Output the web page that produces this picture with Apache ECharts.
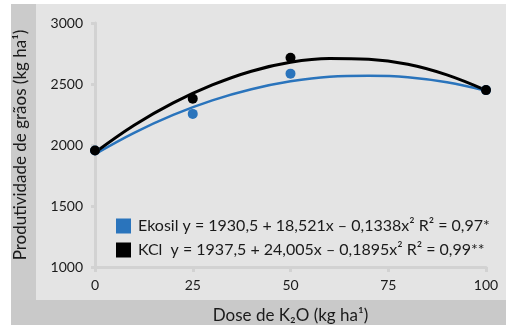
<!DOCTYPE html>
<html><head><meta charset="utf-8">
<script src="https://cdn.jsdelivr.net/npm/echarts@6/dist/echarts.min.js"></script>
<style>html,body{margin:0;padding:0;background:#fff;}#c{width:506px;height:329px;}</style>
</head><body><div id="c"></div>
<script>
// Observed points
var doseX = [0, 25, 50, 100];
var ekosilObs = [1955, 2255, 2585, 2450];
var kclObs = [1955, 2380, 2715, 2450];
// Fitted curves at 10-unit steps
var curveX = [0, 10, 20, 30, 40, 50, 60, 70, 80, 90, 100];
var ekosilCurve = [1925, 2100, 2247, 2366, 2457, 2522, 2560, 2568, 2556, 2514, 2445];
var kclCurve = [1938, 2162, 2345, 2492, 2605, 2678, 2708, 2702, 2662, 2575, 2448];
var xTicks = [0, 25, 50, 75, 100];
var yTicks = [1000, 1500, 2000, 2500, 3000];
var legendText = {
  'Ekosil': 'Ekosil y = 1930,5 + 18,521x – 0,1338x² R² = 0,97*',
  'KCl': 'KCl  y = 1937,5 + 24,005x – 0,1895x² R² = 0,99**'
};
var BLUE = '#2a74bc', BLACK = '#000000';
var FONT = 'Lato';

function pairs(xs, ys) { return xs.map(function (x, i) { return [x, ys[i]]; }); }

var chart = echarts.init(document.getElementById('c'), null, {renderer: 'canvas'});
chart.setOption({
  animation: false,
  backgroundColor: '#ffffff',
  textStyle: {fontFamily: FONT},
  graphic: [
    {type: 'rect', z: -10, silent: true, shape: {x: 11, y: 4, width: 495, height: 321}, style: {fill: '#e4e4e4'}},
    {type: 'rect', z: -9, silent: true, shape: {x: 11, y: 4, width: 25, height: 296}, style: {fill: '#cbcbcb'}},
    {type: 'rect', z: -9, silent: true, shape: {x: 11, y: 300, width: 495, height: 25}, style: {fill: '#c9c9c9'}}
  ],
  grid: {left: 95, right: 20, top: 23, bottom: 57},
  legend: {
    orient: 'vertical', left: 111, top: 213, itemWidth: 15, itemHeight: 15, itemGap: 8,
    icon: 'rect', data: ['Ekosil', 'KCl'],
    formatter: function (n) { return legendText[n]; },
    textStyle: {fontFamily: FONT, fontSize: 16, color: '#1a1a1a', padding: [0, 0, 0, 2]}
  },
  xAxis: {
    type: 'value', min: xTicks[0], max: xTicks[xTicks.length - 1], interval: 25,
    name: 'Dose de K₂O (kg ha¹)', nameLocation: 'middle', nameGap: 40,
    nameTextStyle: {fontFamily: FONT, fontSize: 17, color: '#1a1a1a'},
    axisLine: {lineStyle: {color: '#d2d2d2', width: 3}},
    axisTick: {show: true, length: 5, lineStyle: {color: '#d2d2d2', width: 3}},
    axisLabel: {fontFamily: FONT, fontSize: 14, color: '#1a1a1a', margin: 11,
      formatter: function (v) { return String(v); }},
    splitLine: {show: false}
  },
  yAxis: {
    type: 'value', min: yTicks[0], max: yTicks[yTicks.length - 1], interval: 500,
    name: 'Produtividade de grãos (kg ha¹)', nameLocation: 'middle', nameGap: 66,
    nameTextStyle: {fontFamily: FONT, fontSize: 17, color: '#1a1a1a'},
    axisLine: {show: true, lineStyle: {color: '#d2d2d2', width: 3}},
    axisTick: {show: true, length: 4, lineStyle: {color: '#d2d2d2', width: 3}},
    axisLabel: {fontFamily: FONT, fontSize: 14, color: '#1a1a1a', margin: 12,
      formatter: function (v) { return String(v); }},
    splitLine: {show: false}
  },
  series: [
    {name: 'Ekosil', type: 'line', smooth: 0.4, symbol: 'none', data: pairs(curveX, ekosilCurve),
     lineStyle: {color: BLUE, width: 2.5}, itemStyle: {color: BLUE}, z: 2},
    {name: 'KCl', type: 'line', smooth: 0.4, symbol: 'none', data: pairs(curveX, kclCurve),
     lineStyle: {color: BLACK, width: 3}, itemStyle: {color: BLACK}, z: 3},
    {name: 'Ekosil', type: 'scatter', symbolSize: 10, data: pairs(doseX, ekosilObs),
     itemStyle: {color: BLUE, opacity: 1}, z: 4},
    {name: 'KCl', type: 'scatter', symbolSize: 10, data: pairs(doseX, kclObs),
     itemStyle: {color: BLACK, opacity: 1}, z: 5}
  ]
});
</script></body></html>
